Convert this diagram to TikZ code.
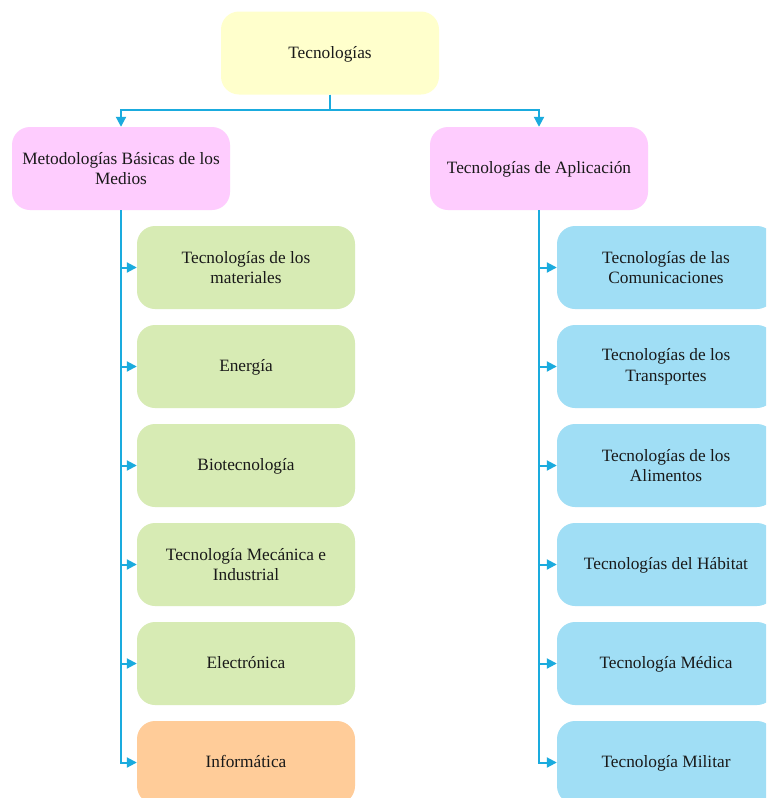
\documentclass[tikz,border=0pt]{standalone}
\usepackage{fontspec}
\setmainfont{Liberation Serif}
\usetikzlibrary{arrows.meta}
\definecolor{cyel}{HTML}{FFFFCC}
\definecolor{cpink}{HTML}{FECCFE}
\definecolor{cgreen}{HTML}{D7EBB4}
\definecolor{corange}{HTML}{FFCC99}
\definecolor{cblue}{HTML}{A0DEF5}
\definecolor{cline}{HTML}{1AABDE}
\tikzset{
  box/.style={rounded corners=18pt, minimum width=218pt, minimum height=83pt,
    align=center, inner sep=2pt, text=black!90,
    font=\fontsize{17.3}{20.8}\selectfont},
  one/.style={text height=13pt, text depth=3pt},
  yel/.style={box, fill=cyel},
  pinkb/.style={box, fill=cpink},
  greenb/.style={box, fill=cgreen},
  orangeb/.style={box, fill=corange},
  blueb/.style={box, fill=cblue},
  arr/.style={draw=cline, line width=2pt, -{Triangle[length=10pt,width=10pt]}}
}
\begin{document}
\begin{tikzpicture}[x=1pt,y=-1pt]
\clip (0,0) rectangle (766,798);
\fill[white] (0,0) rectangle (766,798);
\node[yel,one] (t) at (330,53) {Tecnologías};
\node[pinkb] (m) at (121,168.5) {Metodologías Básicas de los\\Medios};
\node[pinkb,one] (a) at (539,168.5) {Tecnologías de Aplicación};
\node[greenb] (l1) at (246,267.5) {Tecnologías de los\\materiales};
\node[greenb,one] (l2) at (246,366.5) {Energía};
\node[greenb,one] (l3) at (246,465.5) {Biotecnología};
\node[greenb] (l4) at (246,564.5) {Tecnología Mecánica e\\Industrial};
\node[greenb,one] (l5) at (246,663.5) {Electrónica};
\node[orangeb,one] (l6) at (246,762.5) {Informática};
\node[blueb] (r1) at (666,267.5) {Tecnologías de las\\Comunicaciones};
\node[blueb] (r2) at (666,366.5) {Tecnologías de los\\Transportes};
\node[blueb] (r3) at (666,465.5) {Tecnologías de los\\Alimentos};
\node[blueb,one] (r4) at (666,564.5) {Tecnologías del Hábitat};
\node[blueb,one] (r5) at (666,663.5) {Tecnología Médica};
\node[blueb,one] (r6) at (666,762.5) {Tecnología Militar};
\coordinate (j) at (330,110);
\draw[arr] (t.south) -- (j) -| (m.north);
\draw[arr] (t.south) -- (j) -| (a.north);
\foreach \i in {1,...,6}{
  \draw[arr] (m.south) |- (l\i.west);
  \draw[arr] (a.south) |- (r\i.west);
}
\end{tikzpicture}
\end{document}
